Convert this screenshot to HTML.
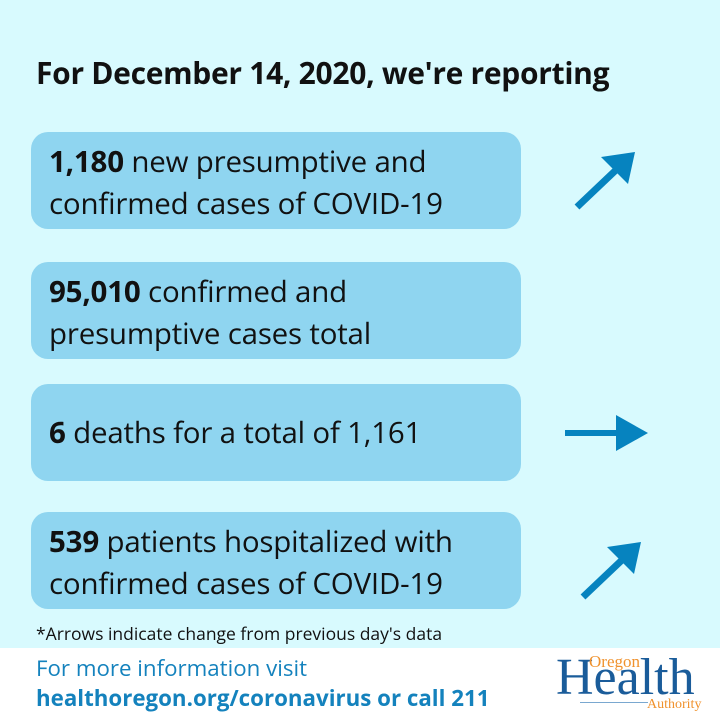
<!DOCTYPE html>
<html><head><meta charset="utf-8"><style>
body{margin:0;width:720px;height:720px;overflow:hidden;background:#d8fafe;font-family:"Open Sans","DejaVu Sans","Liberation Sans",sans-serif;position:relative;color:#111}
.t{position:absolute;left:36px;top:52px;font-size:30px;font-weight:bold;letter-spacing:-0.3px;white-space:nowrap}
.b{position:absolute;left:31px;width:490px;height:97px;background:#8fd5f0;border-radius:17px;box-sizing:border-box;padding:8px 18px;font-size:29.5px;line-height:42px;letter-spacing:-0.2px;white-space:nowrap}
.w{position:absolute;left:0;top:648px;width:720px;height:72px;background:#fff}
.f{position:absolute;left:36px;top:622px;font-size:17.5px;white-space:nowrap}
.l1{position:absolute;left:36px;top:652px;font-size:22.3px;color:#1482bd;white-space:nowrap}
.l2{position:absolute;left:36px;top:682px;font-size:22.3px;color:#1482bd;font-weight:bold;white-space:nowrap}
</style></head><body>
<div class="t">For December 14, 2020, we're reporting</div>
<div class="b" style="top:132px"><b>1,180</b> new presumptive and<br>confirmed cases of COVID-19</div>
<div class="b" style="top:262px"><b>95,010</b> confirmed and<br>presumptive cases total</div>
<div class="b" style="top:384px;padding-top:27px"><b>6</b> deaths for a total of 1,161</div>
<div class="b" style="top:512px"><b>539</b> patients hospitalized with<br>confirmed cases of COVID-19</div>
<svg width="720" height="720" style="position:absolute;left:0;top:0">
<g fill="#0683bf" stroke="#0683bf">
<line x1="577" y1="207" x2="616" y2="170" stroke-width="7"/>
<polygon points="635,152 601,157 628,184" stroke="none"/>
<line x1="565" y1="433" x2="620" y2="433" stroke-width="6"/>
<polygon points="648,433 616,415 616,451" stroke="none"/>
<line x1="583" y1="597" x2="622" y2="560" stroke-width="7"/>
<polygon points="641,542 607,547 634,574" stroke="none"/>
</g></svg>
<div class="w"></div>
<div class="f">*Arrows indicate change from previous day's data</div>
<div class="l1">For more information visit</div>
<div class="l2">healthoregon.org/coronavirus or call 211</div>
<div style="position:absolute;left:556px;top:652px;font-family:'Liberation Serif',serif;color:#1a5c9a;font-size:52px;line-height:52px">Health</div>
<div style="position:absolute;left:589px;top:652px;font-family:'Liberation Serif',serif;color:#f0922e;font-size:17px">Oregon</div>
<div style="position:absolute;left:647px;top:697px;font-family:'Liberation Serif',serif;color:#f0922e;font-size:14px">Authority</div>
<div style="position:absolute;left:580px;top:702px;width:68px;height:1px;background:#7aa8d0"></div>
</body></html>
